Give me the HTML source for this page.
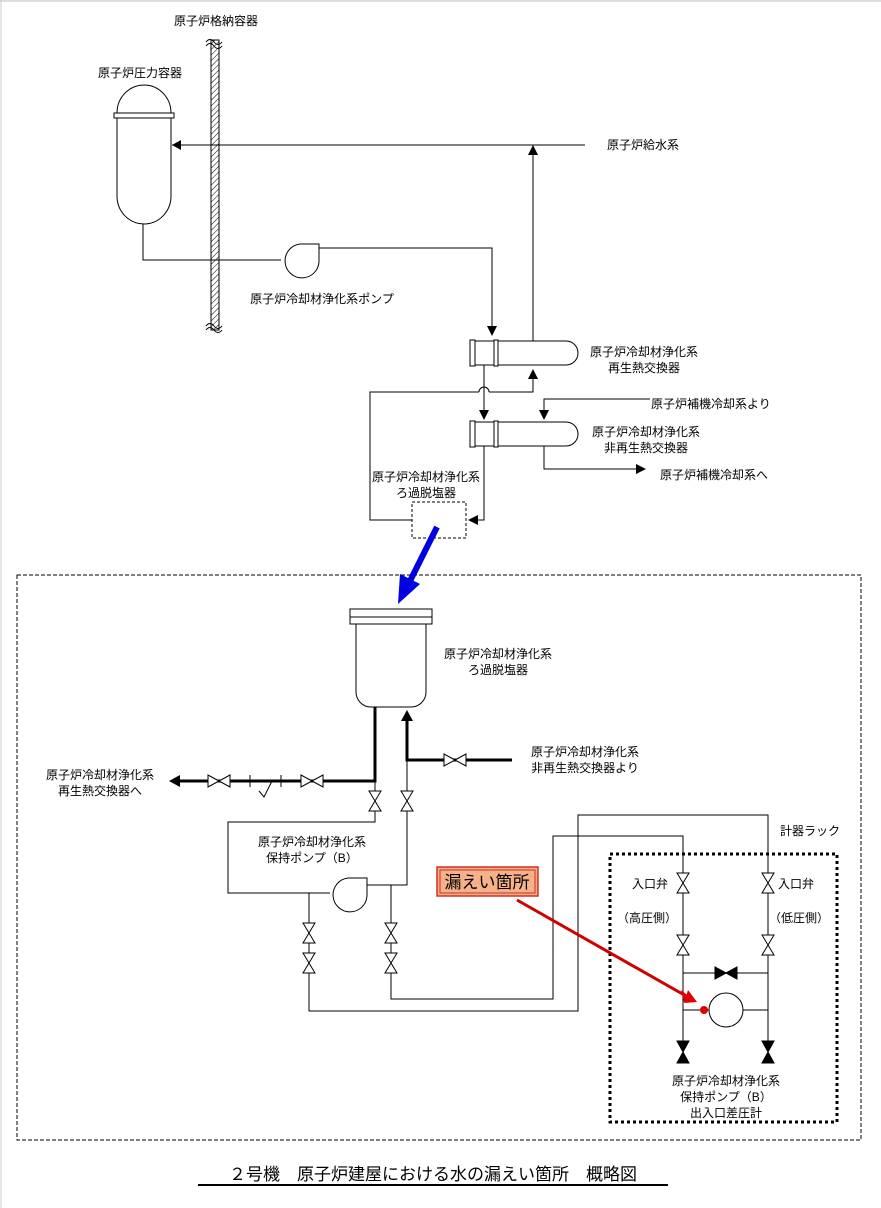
<!DOCTYPE html>
<html><head><meta charset="utf-8"><style>
html,body{margin:0;padding:0;background:#fff;}
svg{display:block;}
text{font-family:"Liberation Sans","Noto Sans CJK JP",sans-serif;font-size:12px;fill:#000;}
</style></head><body>
<svg width="881" height="1208" viewBox="0 0 881 1208" xmlns="http://www.w3.org/2000/svg">
<defs>
<pattern id="hatch" width="4" height="4" patternUnits="userSpaceOnUse" patternTransform="rotate(45)"><rect width="4" height="4" fill="#fff"/><line x1="0" y1="0" x2="0" y2="4" stroke="#000" stroke-width="1"/></pattern>
<symbol id="vv" overflow="visible"><polygon points="-6,-10 6,-10 0,0 -6,10 6,10 0,0" fill="#fff" stroke="#000" stroke-width="1"/></symbol>
<symbol id="hv" overflow="visible"><polygon points="-11,-6 -11,6 0,0 11,-6 11,6 0,0" fill="#fff" stroke="#000" stroke-width="1"/></symbol>
<symbol id="vvb" overflow="visible"><polygon points="-6,-11 6,-11 0,0 -6,11 6,11 0,0" fill="#000" stroke="#000"/></symbol>
<symbol id="hvb" overflow="visible"><polygon points="-11,-6 -11,6 0,0 11,-6 11,6 0,0" fill="#000" stroke="#000"/></symbol>
</defs>
<rect x="0" y="0" width="881" height="1208" fill="#fff"/>
<line x1="0" y1="1" x2="881" y2="1" stroke="#bbb"/>
<line x1="1" y1="0" x2="1" y2="1208" stroke="#ccc"/>

<g fill="none" stroke="#000" stroke-width="1">
<!-- containment wall -->
<rect x="211" y="40" width="8" height="290" fill="url(#hatch)" stroke="#000"/>
<path d="M206,42 q4,-5 8,0 q4,5 8,0 M206,46 q4,-5 8,0 q4,5 8,0 M206,326 q4,-5 8,0 q4,5 8,0 M206,330 q4,-5 8,0 q4,5 8,0"/>
<!-- RPV -->
<path d="M117,113 A27,28 0 0 1 171,113"/>
<rect x="114" y="113" width="60" height="5" fill="#fff"/>
<path d="M117,118 L117,196 A27,28 0 0 0 171,196 L171,118"/>
<!-- feedwater -->
<line x1="172" y1="145" x2="585" y2="145"/>
<line x1="533" y1="150" x2="533" y2="341"/>
<!-- RPV to pump -->
<polyline points="143,224 143,260 281,260"/>
<path d="M319,248 L319,262 A17,17 0 1 1 300,244 L319,244 Z" fill="#fff"/>
<polyline points="319,248 492,248 492,330"/>
<!-- regen HX -->
<path d="M470,341 L566,341 A12,12 0 0 1 566,365 L470,365 Z" fill="#fff"/>
<rect x="470" y="340" width="5" height="26" fill="#fff"/>
<rect x="494" y="340" width="4" height="26" fill="#fff"/>
<line x1="484" y1="365" x2="484" y2="415"/>
<polyline points="533,375 533,392 489,392"/>
<path d="M489,392 a5,5 0 0 0 -10,0"/>
<polyline points="479,392 370,392 370,520 412,520"/>
<!-- non-regen HX -->
<path d="M470,422 L566,422 A12,12 0 0 1 566,446 L470,446 Z" fill="#fff"/>
<rect x="470" y="421" width="5" height="26" fill="#fff"/>
<rect x="494" y="421" width="4" height="26" fill="#fff"/>
<polyline points="650,399 544,399 544,415"/>
<polyline points="544,446 544,469 640,469"/>
<polyline points="484,446 484,520 472,520"/>
<rect x="412" y="502" width="54" height="36" stroke-dasharray="3,2"/>
<!-- big dashed box -->
<rect x="17" y="575" width="844" height="565" stroke-dasharray="4,2"/>
<!-- filter demin -->
<rect x="350" y="609" width="82" height="8" fill="#fff"/>
<rect x="350" y="617" width="82" height="7" fill="#fff"/>
<path d="M356,624 L356,692 A15,15 0 0 0 371,707 L411,707 A15,15 0 0 0 426,692 L426,624"/>
<!-- thick lines -->
<polyline points="375,707 375,781 176,781" stroke-width="3"/>
<polyline points="407,718 407,760 512,760" stroke-width="3"/>
<!-- check valve -->
<line x1="250" y1="775" x2="250" y2="787"/><line x1="281" y1="775" x2="281" y2="787"/>
<polyline points="259,791 264,797 272,781"/>
<!-- thin lines -->
<polyline points="375,781 375,822 228,822 228,893 330,893"/>
<polyline points="407,760 407,885 367,885"/>
<path d="M367,881 L367,896 A17,17 0 1 1 348,878 L367,878 Z" fill="#fff"/>
<polyline points="309,893 309,1011 578,1011 578,815 768,815 768,1062"/>
<polyline points="391,885 391,999 553,999 553,836 683,836 683,1062"/>
<rect x="610" y="854" width="227" height="268" stroke-width="3" stroke-dasharray="3,3"/>
<line x1="683" y1="973" x2="768" y2="973"/>
<line x1="683" y1="1010" x2="709" y2="1010"/><line x1="743" y1="1010" x2="768" y2="1010"/>
<circle cx="726" cy="1010" r="17" fill="#fff"/>
</g>
<!-- arrowheads -->
<g fill="#000">
<polygon points="172,145 181,140 181,150"/>
<polygon points="533,145 528,155 538,155"/>
<polygon points="492,336 487,326 497,326"/>
<polygon points="484,420 479,410 489,410"/>
<polygon points="533,369 528,379 538,379"/>
<polygon points="544,420 539,410 549,410"/>
<polygon points="646,469 636,464 636,474"/>
<polygon points="468,520 478,515 478,525"/>
<polygon points="169,781 180,775 180,787"/>
<polygon points="407,710 401,721 413,721"/>
</g>
<!-- valves -->
<use href="#hv" x="219" y="781"/><use href="#hv" x="312" y="781"/><use href="#hv" x="455" y="760"/>
<use href="#vv" x="375" y="801"/><use href="#vv" x="407" y="801"/>
<use href="#vv" x="309" y="933"/><use href="#vv" x="309" y="963"/>
<use href="#vv" x="391" y="933"/><use href="#vv" x="391" y="963"/>
<use href="#vv" x="683" y="883"/><use href="#vv" x="683" y="945"/>
<use href="#vv" x="768" y="883"/><use href="#vv" x="768" y="945"/>
<use href="#hvb" x="726" y="973"/>
<use href="#vvb" x="683" y="1052"/><use href="#vvb" x="768" y="1052"/>
<!-- blue arrow -->
<line x1="437" y1="527" x2="410" y2="581" stroke="#0000e0" stroke-width="6"/>
<polygon points="398,604 400,574 420,584" fill="#0000e0"/>
<!-- red arrow -->
<line x1="517" y1="900" x2="686" y2="996" stroke="#d00000" stroke-width="3"/>
<polygon points="696,1002 681,990 684,1002" fill="#e00000"/>
<polygon points="697,1002 688,990 684,1003" fill="#e00000"/>
<circle cx="704" cy="1010" r="4" fill="#e00000"/>
<!-- leak label -->
<rect x="437" y="867" width="101" height="29" fill="#f6b08a" stroke="#d03020" stroke-width="1.5"/>
<rect x="440" y="870" width="95" height="23" fill="none" stroke="#d03020" stroke-width="1"/>
<text x="487" y="888" text-anchor="middle" style="font-size:17px">漏えい箇所</text>
<!-- labels -->
<text x="216" y="25" text-anchor="middle">原子炉格納容器</text>
<text x="140" y="77" text-anchor="middle">原子炉圧力容器</text>
<text x="607" y="149">原子炉給水系</text>
<text x="322" y="303" text-anchor="middle">原子炉冷却材浄化系ポンプ</text>
<text x="644" y="356" text-anchor="middle">原子炉冷却材浄化系</text>
<text x="644" y="372" text-anchor="middle">再生熱交換器</text>
<text x="651" y="408">原子炉補機冷却系より</text>
<text x="646" y="436" text-anchor="middle">原子炉冷却材浄化系</text>
<text x="646" y="452" text-anchor="middle">非再生熱交換器</text>
<text x="660" y="479">原子炉補機冷却系へ</text>
<text x="426" y="481" text-anchor="middle">原子炉冷却材浄化系</text>
<text x="426" y="497" text-anchor="middle">ろ過脱塩器</text>
<text x="498" y="658" text-anchor="middle">原子炉冷却材浄化系</text>
<text x="498" y="674" text-anchor="middle">ろ過脱塩器</text>
<text x="585" y="756" text-anchor="middle">原子炉冷却材浄化系</text>
<text x="585" y="772" text-anchor="middle">非再生熱交換器より</text>
<text x="100" y="779" text-anchor="middle">原子炉冷却材浄化系</text>
<text x="100" y="795" text-anchor="middle">再生熱交換器へ</text>
<text x="312" y="846" text-anchor="middle">原子炉冷却材浄化系</text>
<text x="312" y="862" text-anchor="middle">保持ポンプ（B）</text>
<text x="780" y="835">計器ラック</text>
<text x="632" y="888">入口弁</text>
<text x="778" y="888">入口弁</text>
<text x="617" y="922">（高圧側）</text>
<text x="769" y="922">（低圧側）</text>
<text x="726" y="1085" text-anchor="middle">原子炉冷却材浄化系</text>
<text x="726" y="1101" text-anchor="middle">保持ポンプ（B）</text>
<text x="726" y="1117" text-anchor="middle">出入口差圧計</text>
<text x="433" y="1180" text-anchor="middle" style="font-size:17px">２号機　原子炉建屋における水の漏えい箇所　概略図</text>
<line x1="198" y1="1185" x2="668" y2="1185" stroke="#000" stroke-width="2"/>
</svg>
</body></html>
